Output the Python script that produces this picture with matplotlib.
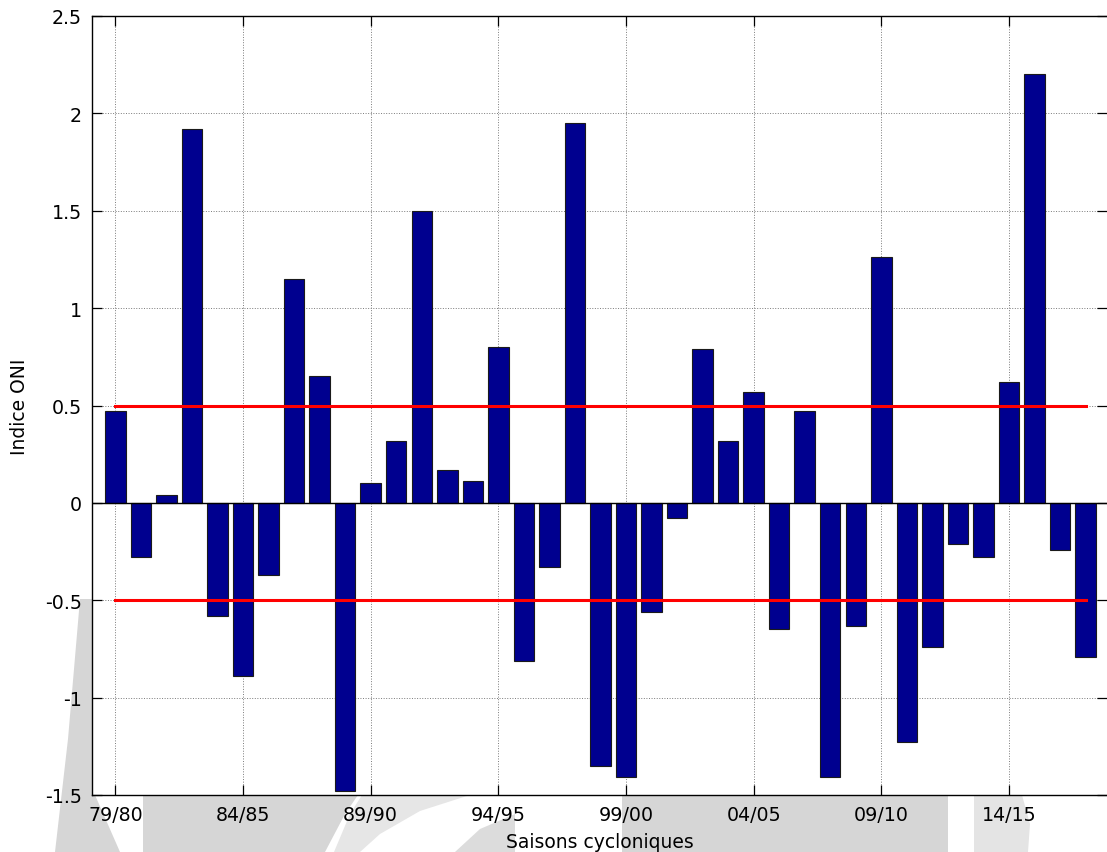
import matplotlib
matplotlib.use("Agg")
import matplotlib.pyplot as plt
from matplotlib.patches import Polygon
import numpy as np

plt.rcParams['font.family'] = ['DejaVu Sans']

# Cyclone seasons 1979/80 .. 2017/18 and the ONI index of each season
seasons = ["79/80", "80/81", "81/82", "82/83", "83/84", "84/85", "85/86", "86/87",
           "87/88", "88/89", "89/90", "90/91", "91/92", "92/93", "93/94", "94/95",
           "95/96", "96/97", "97/98", "98/99", "99/00", "00/01", "01/02", "02/03",
           "03/04", "04/05", "05/06", "06/07", "07/08", "08/09", "09/10", "10/11",
           "11/12", "12/13", "13/14", "14/15", "15/16", "16/17", "17/18"]
oni = [0.47, -0.28, 0.04, 1.92, -0.58, -0.89, -0.37, 1.15,
       0.65, -1.48, 0.10, 0.32, 1.50, 0.17, 0.11, 0.80,
       -0.81, -0.33, 1.95, -1.35, -1.41, -0.56, -0.08, 0.79,
       0.32, 0.57, -0.65, 0.47, -1.41, -0.63, 1.26, -1.23,
       -0.74, -0.21, -0.28, 0.62, 2.20, -0.24, -0.79]
threshold = 0.5
label_every = 5
yticks = [-1.5, -1.0, -0.5, 0.0, 0.5, 1.0, 1.5, 2.0, 2.5]
ytick_labels = ["-1.5", "-1", "-0.5", "0", "0.5", "1", "1.5", "2", "2.5"]

W, H = 1107, 853
fig = plt.figure(figsize=(W / 100, H / 100), dpi=100)

# light grey background decoration behind the plot
bg = fig.add_axes([0, 0, 1, 1], zorder=-5)
bg.set_xlim(0, W)
bg.set_ylim(H, 0)
bg.axis("off")
shapes = [
    ([(80, 600), (95, 600), (95, 796), (120, 853), (55, 853), (68, 740)], "#d6d6d6"),
    ([(143, 796), (358, 796), (345, 815), (325, 853), (143, 853)], "#d6d6d6"),
    ([(362, 796), (470, 796), (420, 812), (380, 835), (360, 853), (334, 853), (350, 815)], "#e6e6e6"),
    ([(455, 853), (480, 830), (515, 815), (515, 853)], "#dcdcdc"),
    ([(622, 796), (948, 796), (948, 853), (622, 853)], "#d6d6d6"),
    ([(974, 796), (1022, 796), (1030, 825), (1028, 853), (974, 853)], "#e4e4e4"),
]
for pts, col in shapes:
    bg.add_patch(Polygon(pts, closed=True, facecolor=col, edgecolor="none"))

# main axes
left, right, top, bottom = 91.8, 1107, 17, 796
ax = fig.add_axes([left / W, 1 - bottom / H, (right - left) / W, (bottom - top) / H])
ax.set_facecolor("white")

x = np.arange(1, len(oni) + 1)
x_first_px, step_px = 115.4, 25.53
ax.set_xlim(1 - (x_first_px - left) / step_px, 1 + (right - x_first_px) / step_px)
ax.set_ylim(-1.5, 2.5)

ax.grid(True, linestyle=":", color="#7a7a7a", linewidth=0.7)
ax.set_axisbelow(True)

ax.bar(x, oni, width=0.8, color="#00008f", edgecolor="#1a1a1a", linewidth=0.8, zorder=2)
ax.axhline(0, color="black", linewidth=1.0, zorder=3)
ax.plot([x[0], x[-1]], [threshold, threshold], color="red", linewidth=2.2, zorder=4)
ax.plot([x[0], x[-1]], [-threshold, -threshold], color="red", linewidth=2.2, zorder=4)

ax.set_xticks(x[::label_every])
ax.set_xticklabels(seasons[::label_every])
ax.set_yticks(yticks)
ax.set_yticklabels(ytick_labels)

ax.tick_params(axis="both", direction="in", length=7, width=0.9, color="black",
               labelsize=13.7, top=True, right=True)
ax.tick_params(axis="x", pad=7)
ax.tick_params(axis="y", pad=7)

for side in ("left", "bottom", "top"):
    ax.spines[side].set_linewidth(1.0)
    ax.spines[side].set_color("black")
ax.spines["right"].set_visible(False)

ax.set_xlabel("Saisons cycloniques", fontsize=13.5, labelpad=6)
ax.set_ylabel("Indice ONI", fontsize=13.5, labelpad=12)

fig.savefig("out.png", dpi=100, facecolor="white")
